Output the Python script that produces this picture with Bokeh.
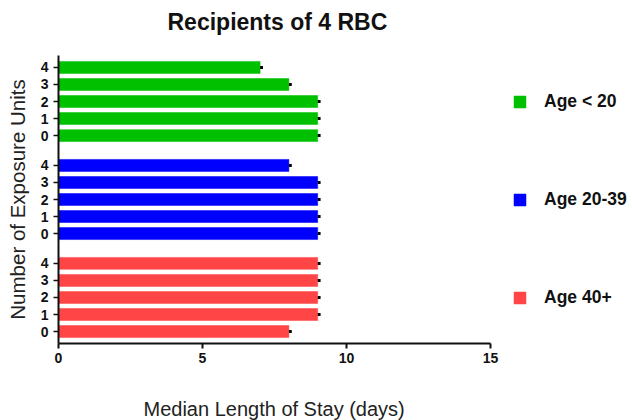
from bokeh.plotting import figure
from bokeh.models import ColumnDataSource, Range1d, FixedTicker, Legend, LegendItem, Title
from bokeh.embed import file_html
from bokeh.resources import INLINE

# ---- data ----
chart_title = "Recipients of 4 RBC"
x_label = "Median Length of Stay (days)"
y_label = "Number of Exposure Units"
groups = ["Age < 20", "Age 20-39", "Age 40+"]
exposure_units = [0, 1, 2, 3, 4]
median_lt20 = [9, 9, 9, 8, 7]
median_20_39 = [9, 9, 9, 9, 8]
median_40plus = [8, 9, 9, 9, 9]
err_lt20 = [0.1, 0.1, 0.1, 0.1, 0.1]
err_20_39 = [0.1, 0.1, 0.1, 0.1, 0.1]
err_40plus = [0.1, 0.1, 0.1, 0.1, 0.1]
x_ticks = [0, 5, 10, 15]
colors = ["#00C000", "#0000FF", "#FF4545"]

# ---- layout constants ----
FONT = "Liberation Sans"
W, H = 632, 420
LEFT, TOP, BOTTOM = 58, 55, 77
FRAME_W = W - LEFT
X_PX_PER_UNIT = 28.8
GAP = 0.75
BLOCK = len(exposure_units) + GAP

series_vals = [median_lt20, median_20_39, median_40plus]
series_err = [err_lt20, err_20_39, err_40plus]
# block index from bottom: Age 40+ -> 0, Age 20-39 -> 1, Age < 20 -> 2
block_index = [2, 1, 0]

p = figure(width=W, height=H, output_backend="svg", toolbar_location=None,
           x_range=Range1d(0, FRAME_W / X_PX_PER_UNIT),
           y_range=Range1d(-0.7, 2 * BLOCK + 4 + 0.7),
           min_border_left=LEFT, min_border_right=0,
           min_border_top=TOP, min_border_bottom=BOTTOM)
p.outline_line_color = None
p.xgrid.visible = False
p.ygrid.visible = False

p.title.text = chart_title
p.title.text_font = FONT
p.title.text_font_size = "23px"
p.title.text_font_style = "bold"
p.title.text_color = "#111111"
p.title.align = "left"
p.title.offset = 109
p.title.standoff = 0
# invisible spacer between title and frame
p.add_layout(Title(text=" ", text_font_size="1px", standoff=18), "above")

legend_items = []
tick_pos = []
tick_lab = {}
for g, vals, errs, bi, col in zip(groups, series_vals, series_err, block_index, colors):
    ys = [bi * BLOCK + e for e in exposure_units]
    src = ColumnDataSource(dict(y=ys, v=vals, ve=[v + e for v, e in zip(vals, errs)]))
    r = p.hbar(y="y", right="v", left=0, height=0.7, source=src,
               fill_color=col, line_color=col, line_width=0.5)
    p.segment(x0="v", x1="ve", y0="y", y1="y", source=src,
              line_color="black", line_width=3)
    legend_items.append(LegendItem(label=g, renderers=[r]))
    for y, e in zip(ys, exposure_units):
        tick_pos.append(y)
        tick_lab[y] = str(e)

# x axis
xa = p.xaxis[0]
xa.ticker = FixedTicker(ticks=x_ticks)
xa.bounds = (x_ticks[0], x_ticks[-1])
xa.major_label_text_font = FONT
xa.major_label_text_font_size = "14px"
xa.major_label_text_font_style = "bold"
xa.major_label_text_color = "#111111"
xa.major_label_standoff = 4
xa.axis_line_width = 2
xa.axis_line_color = "#111111"
xa.major_tick_line_width = 2
xa.major_tick_line_color = "#111111"
xa.major_tick_out = 5
xa.major_tick_in = 0
xa.minor_tick_line_color = None

# x axis title, placed under the 0-15 axis span (spacer first, then the text)
p.add_layout(Title(text=" ", text_font_size="1px", standoff=27), "below")
p.add_layout(Title(text=x_label, align="left", offset=85, standoff=0,
                   text_font=FONT, text_font_size="20px", text_font_style="normal",
                   text_color="#222222"), "below")

# y axis
ya = p.yaxis[0]
ya.ticker = FixedTicker(ticks=tick_pos)
ya.major_label_overrides = tick_lab
ya.axis_label = y_label
ya.axis_label_text_font = FONT
ya.axis_label_text_font_size = "20.5px"
ya.axis_label_text_font_style = "normal"
ya.axis_label_text_color = "#222222"
ya.axis_label_standoff = 9
ya.major_label_text_font = FONT
ya.major_label_text_font_size = "14px"
ya.major_label_text_font_style = "bold"
ya.major_label_text_color = "#111111"
ya.major_label_standoff = 5
ya.axis_line_width = 2
ya.axis_line_color = "#111111"
ya.major_tick_line_width = 1.5
ya.major_tick_line_color = "#111111"
ya.major_tick_out = 5
ya.major_tick_in = 0
ya.minor_tick_line_color = None

legend = Legend(items=legend_items, location=(454, 35),
                glyph_width=15, glyph_height=15, label_height=20,
                label_standoff=17, spacing=77, padding=0, margin=0,
                border_line_color=None, background_fill_alpha=0,
                label_text_font=FONT, label_text_font_size="17.5px",
                label_text_font_style="bold", label_text_color="#111111")
p.add_layout(legend, "center")

open("out.html", "w").write(file_html(p, INLINE))
